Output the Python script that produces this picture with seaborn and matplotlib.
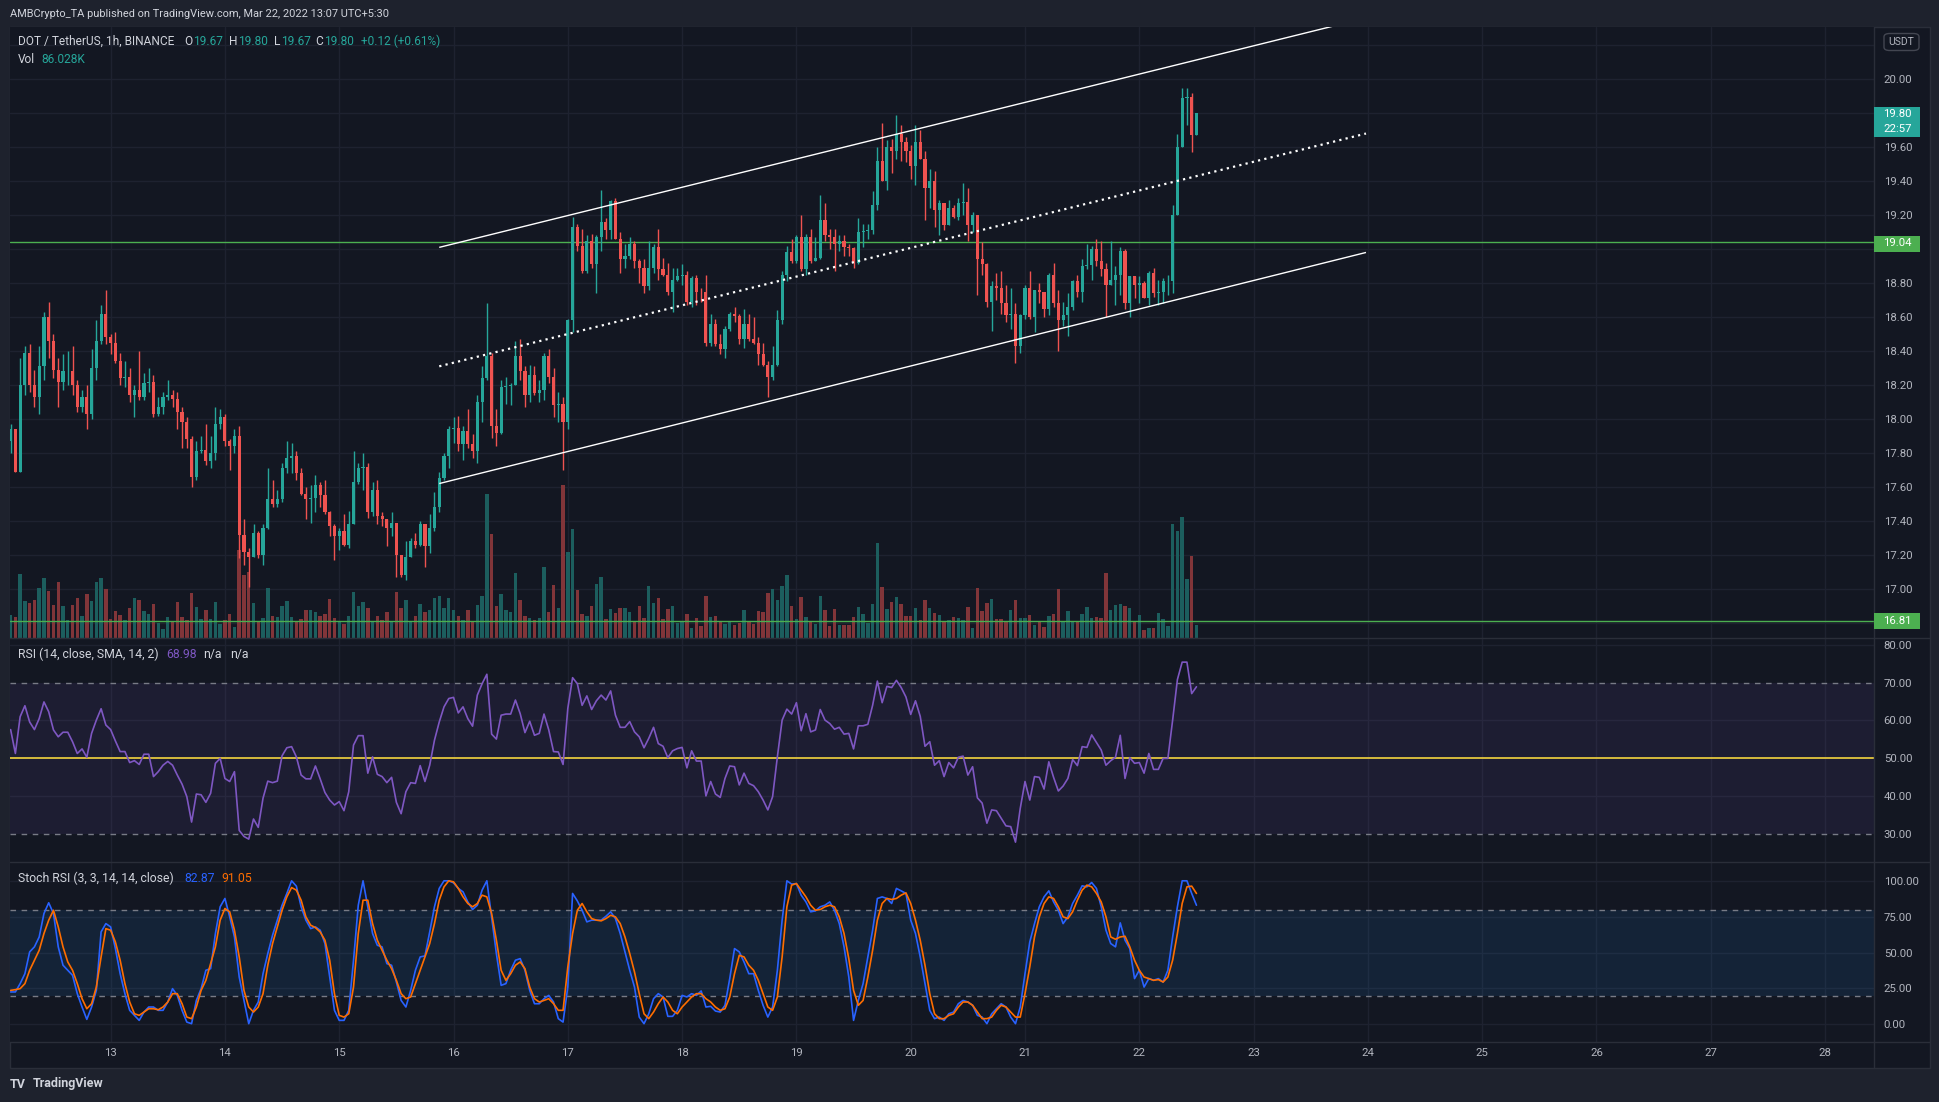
import numpy as np
import matplotlib
matplotlib.use("Agg")
import matplotlib.pyplot as plt
import seaborn as sns
from matplotlib.patches import Rectangle, FancyBboxPatch
from matplotlib.transforms import blended_transform_factory
from matplotlib.lines import Line2D

# ---------------- data (hourly DOT/USDT candles, Mar 12 03:00 .. Mar 22 12:00) ----------------
first_open = 17.87
closes = [
 17.94,17.69,18.20,18.39,18.20,18.13,18.31,18.60,18.46,18.29,
 18.22,18.28,18.285,18.20,18.07,18.13,18.03,18.30,18.46,18.62,
 18.48,18.45,18.34,18.24,18.245,18.14,18.17,18.13,18.21,18.215,
 18.03,18.07,18.13,18.14,18.12,18.04,17.98,17.88,17.66,17.81,
 17.815,17.75,17.80,17.97,18.01,17.87,17.84,17.90,17.32,17.22,
 17.19,17.33,17.20,17.36,17.53,17.50,17.53,17.71,17.77,17.785,
 17.68,17.56,17.53,17.535,17.61,17.55,17.45,17.37,17.31,17.34,
 17.26,17.38,17.63,17.71,17.715,17.45,17.58,17.43,17.41,17.36,
 17.39,17.20,17.08,17.19,17.28,17.26,17.38,17.25,17.36,17.48,
 17.65,17.78,17.94,17.945,17.85,17.93,17.85,17.81,18.10,18.24,
 18.37,17.96,17.92,18.19,18.195,18.20,18.37,18.28,18.14,18.26,
 18.15,18.17,18.37,18.25,18.08,18.09,17.98,18.58,19.13,19.02,
 18.87,19.05,18.91,19.07,19.16,19.11,19.28,19.06,18.94,18.96,
 19.03,18.93,18.89,18.78,18.89,19.01,18.88,18.85,18.75,18.82,
 18.84,18.85,18.69,18.83,18.75,18.745,18.45,18.56,18.44,18.41,
 18.53,18.62,18.605,18.47,18.56,18.47,18.45,18.38,18.32,18.25,
 18.32,18.58,18.85,18.98,18.93,19.07,18.88,19.07,18.93,18.945,
 19.17,19.08,19.07,19.03,19.05,19.01,19.005,18.92,19.10,19.105,
 19.11,19.26,19.52,19.40,19.60,19.58,19.68,19.63,19.58,19.49,
 19.63,19.53,19.36,19.40,19.23,19.27,19.14,19.24,19.19,19.27,
 19.275,19.14,19.20,18.94,18.91,18.69,18.78,18.77,18.68,18.61,
 18.615,18.43,18.61,18.77,18.60,18.76,18.75,18.65,18.85,18.68,
 18.58,18.61,18.66,18.81,18.75,18.90,18.905,19.00,18.93,18.88,
 18.79,18.82,18.85,18.99,18.68,18.84,18.79,18.80,18.71,18.86,
 18.74,18.745,18.81,18.815,19.20,19.60,19.89,19.895,19.67,19.80]
highs = [
 17.97,17.94,18.36,18.43,18.44,18.29,18.43,18.63,18.69,18.50,
 18.36,18.38,18.40,18.43,18.23,18.17,18.20,18.41,18.58,18.67,
 18.76,18.50,18.51,18.39,18.34,18.30,18.20,18.40,18.27,18.30,
 18.26,18.13,18.16,18.23,18.17,18.16,18.07,18.01,17.90,17.87,
 17.90,17.97,17.90,18.07,18.06,18.03,17.88,17.94,17.96,17.41,
 17.24,17.38,17.34,17.38,17.71,17.64,17.58,17.74,17.87,17.86,
 17.81,17.71,17.60,17.61,17.67,17.63,17.64,17.46,17.38,17.36,
 17.44,17.46,17.81,17.74,17.80,17.74,17.63,17.64,17.45,17.41,
 17.45,17.39,17.20,17.28,17.30,17.33,17.40,17.38,17.44,17.57,
 17.69,17.80,17.96,18.01,18.02,17.96,18.06,17.91,18.14,18.31,
 18.68,18.39,18.06,18.23,18.25,18.21,18.46,18.47,18.31,18.32,
 18.31,18.23,18.39,18.41,18.30,18.16,18.13,18.59,19.19,19.15,
 19.12,19.08,19.09,19.08,19.35,19.18,19.29,19.30,19.10,19.03,
 19.07,19.05,18.94,18.94,19.05,19.03,19.12,18.95,18.92,18.89,
 18.89,18.91,18.87,18.84,18.85,18.77,18.85,18.62,18.59,18.50,
 18.55,18.63,18.66,18.62,18.65,18.62,18.60,18.48,18.45,18.34,
 18.43,18.64,18.87,19.02,19.06,19.08,19.20,19.09,19.12,19.07,
 19.32,19.27,19.12,19.12,19.08,19.08,19.03,19.01,19.18,19.15,
 19.15,19.34,19.60,19.74,19.64,19.65,19.79,19.73,19.66,19.61,
 19.73,19.70,19.58,19.47,19.46,19.29,19.27,19.29,19.26,19.30,
 19.39,19.36,19.22,19.20,19.04,18.92,18.81,18.86,18.87,18.79,
 18.77,18.68,18.62,18.79,18.87,18.76,18.80,18.75,18.86,18.92,
 18.76,18.69,18.74,18.82,18.85,18.94,19.03,19.02,19.06,19.05,
 18.92,19.05,18.90,19.01,19.00,18.84,18.84,18.84,18.81,18.87,
 18.89,18.82,18.83,18.85,19.26,19.68,19.95,19.95,19.92,19.80]
lows = [
 17.80,17.69,17.69,18.14,18.16,18.07,18.03,18.23,18.36,18.24,
 18.07,18.17,18.20,18.14,18.04,18.04,17.94,18.00,18.23,18.44,
 18.44,18.38,18.33,18.20,18.19,18.10,18.01,18.11,18.11,18.16,
 18.01,18.02,18.03,18.11,18.07,17.94,17.83,17.83,17.60,17.64,
 17.80,17.73,17.71,17.76,17.94,17.84,17.70,17.80,17.18,17.14,
 17.01,17.19,17.18,17.14,17.35,17.48,17.48,17.51,17.68,17.68,
 17.64,17.55,17.41,17.39,17.45,17.48,17.44,17.31,17.17,17.23,
 17.25,17.24,17.38,17.62,17.58,17.42,17.43,17.38,17.37,17.25,
 17.31,17.07,17.07,17.05,17.19,17.24,17.25,17.13,17.21,17.34,
 17.45,17.64,17.71,17.86,17.81,17.76,17.83,17.77,17.74,17.98,
 18.23,17.89,17.84,17.91,18.09,18.08,18.20,18.23,18.07,18.10,
 18.14,18.10,18.11,18.21,18.01,17.98,17.70,17.94,18.51,18.99,
 18.86,18.86,18.89,18.74,18.99,19.06,19.06,19.06,18.86,18.89,
 18.94,18.89,18.80,18.74,18.76,18.86,18.82,18.84,18.73,18.63,
 18.81,18.79,18.67,18.66,18.67,18.69,18.43,18.43,18.43,18.38,
 18.36,18.52,18.57,18.44,18.42,18.46,18.44,18.32,18.31,18.13,
 18.23,18.31,18.56,18.81,18.92,18.92,18.87,18.85,18.92,18.93,
 18.94,19.05,19.00,18.87,18.99,18.96,18.96,18.89,18.91,19.01,
 19.06,19.09,19.23,19.40,19.35,19.45,19.53,19.52,19.51,19.41,
 19.38,19.53,19.17,19.24,19.13,19.08,19.11,19.14,19.18,19.17,
 19.20,19.05,19.10,18.73,18.85,18.66,18.52,18.70,18.62,18.57,
 18.53,18.33,18.39,18.59,18.59,18.51,18.68,18.60,18.61,18.66,
 18.40,18.55,18.49,18.64,18.72,18.69,18.88,18.82,18.90,18.84,
 18.60,18.79,18.67,18.73,18.65,18.60,18.71,18.68,18.71,18.67,
 18.72,18.67,18.68,18.73,18.74,19.20,19.60,19.73,19.57,19.67]
volume_k = [
 152,139,422,244,231,251,330,396,310,218, 370,211,119,218,264,145,290,244,370,396,
 323,125,178,152,119,198,264,251,178,158, 224,99,59,139,106,238,139,119,297,205,
 125,185,125,238,92,119,158,73,581,416, 436,231,106,132,330,145,139,211,244,139,
 106,125,185,
 185,172,145,158,257,132,106,92,145,304, 211,238,198,106,145,119,172,106,304,198,
 251,106,145,224,172,185,264,277,198,264, 185,145,119,185,106,218,277,950,686,211,
 290,185,172,429,251,145,132,119,132,469, 172,350,198,1010,568,719,317,158,145,211,356,
 403,125,191,165,198,198,172,106,211,132, 343,231,264,125,191,211,99,112,158,66,
 132,79,277,139,145,112,92,106,86,99, 185,106,92,178,172,297,323,251,343,416,
 211,125,271,139,112,92,277,185,79,191, 86,86,86,139,205,158,99,224,627,337,
 191,238,271,224,145,
 145,198,119,251,198,165,152,112,119,139, 132,119,205,66,330,178,231,257,125,125,
 112,185,251,132,132,152,86,106,73,145, 158,323,106,178,112,112,158,205,132,139,
 132,429,185,218,224,211,198,112,152,53, 66,66,165,125,79,752,706,799,389,541,
 86]
rsi = [
 57.6,51.3,61.0,63.9,59.6,57.6,60.5,64.9,62.3,57.5, 55.7,56.9,56.9,54.4,51.3,52.5,50.3,56.6,60.1,63.1,
 58.8,57.6,54.6,51.8,51.8,48.9,49.4,48.4,51.1,51.1, 45.2,46.5,48.2,49.2,48.2,45.6,43.2,39.9,33.2,40.6,
 40.4,38.4,40.8,48.7,50.0,44.7,43.9,46.5,31.0,29.4, 28.7,34.0,31.8,39.5,44.0,43.6,44.0,50.7,52.8,53.1,
 50.4,45.6,44.6,44.6,48.0,44.6,41.0,39.0,37.7,38.6, 36.2,41.2,53.5,56.0,56.0,46.1,50.4,45.8,45.2,43.6,
 45.0,38.4,35.4,41.2,43.6,43.4,48.1,43.9,48.2,54.8, 59.6,63.6,65.8,66.1,62.0,63.6,60.5,58.5,66.7,69.7,
 72.2,56.4,55.1,61.4,61.7,61.7,65.4,61.8,56.8,59.8, 56.1,56.6,61.7,57.5,51.8,51.7,48.4,63.2,71.3,69.7,
 64.0,66.5,62.9,65.2,
 66.7,65.4,67.8,61.4,58.2,58.2,59.7,57.0,55.7,52.8, 55.3,58.2,53.9,53.2,50.2,52.0,52.6,52.9,47.5,52.0,
 49.3,49.3,40.1,43.9,40.6,39.7,44.7,48.0,47.8,43.0, 46.1,43.4,42.8,41.2,39.0,36.4,39.9,50.4,60.1,63.0,
 61.7,64.7,57.3,61.8,57.0,57.5,62.9,60.1,59.2,57.7, 58.2,56.4,56.6,52.5,58.6,58.6,59.0,64.0,70.4,64.7,
 69.0,68.7,70.6,68.7,66.2,61.6,65.2,61.1,53.2,54.4, 48.2,49.4,45.2,48.9,47.5,50.3,50.6,45.6,47.8,39.6,
 38.2,32.9,36.4,36.2,34.2,32.2,32.0,27.9,36.8,43.9, 39.0,45.2,45.0,41.9,49.1,45.0,41.4,42.7,44.7,49.7,
 48.1,53.1,52.9,56.2,54.2,52.2,48.2,49.4,50.3,56.1, 44.7,50.2,48.7,48.9,46.1,51.3,47.1,47.1,50.0,50.0,
 60.1,70.8,75.4,75.4,67.1,68.9]
stoch_k = [
 22.6,22.6,28.4,35.3,50.5,54.0,60.9,77.2,84.7,77.2, 54.0,41.2,37.7,34.2,21.4,12.1,3.5,12.1,23.7,64.4,
 70.2,67.9,52.8,35.3,21.4,9.8,6.3,2.8,8.6,12.1, 12.1,9.8,9.8,15.6,24.9,20.2,9.8,1.6,0.5,16.7,
 24.9,37.7,38.8,63.3,81.9,87.7,74.9,60.9,33.0,16.7, 0.5,9.8,15.6,35.3,49.3,62.1,72.6,83.0,91.2,100,
 96.3,81.9,72.6,66.7,67.9,65.6,56.3,33.0,9.8,2.8, 2.8,9.8,44.7,83.0,100,81.9,63.3,55.1,54.0,42.3,
 41.2,29.5,16.7,12.1,23.7,37.7,47.0,47.7,64.4,81.9, 94.7,100,100,98.6,94.7,92.3,85.3,80.0,83.0,93.5,
 100,74.9,49.3,27.2,28.4,37.7,44.7,45.8,37.7,23.7, 14.4,14.4,17.9,20.2,15.6,4.0,1.6,26.0,91.2,86.0,
 79.5,71.4,72.6,72.6,
 72.6,75.3,78.4,73.7,63.3,50.5,37.7,26.0,5.1,0.5, 7.4,17.9,21.4,19.1,5.6,5.6,9.8,20.2,19.1,21.4,
 20.2,23.3,12.1,12.6,9.3,8.6,13.3,31.9,52.8,50.5, 43.5,35.3,35.3,23.7,13.3,5.1,12.1,37.7,72.6,100,
 97.7,98.1,90.0,85.3,78.4,79.1,81.9,83.0,85.3,79.5, 70.2,54.0,33.0,2.8,16.7,28.4,47.0,65.6,87.7,88.8,
 87.7,84.2,94.7,93.0,91.2,72.6,63.3,47.0,28.4,9.8, 4.0,5.1,2.8,7.4,8.6,14.4,16.7,15.6,13.3,6.3,
 5.1,0.5,7.4,10.9,14.4,12.1,5.1,0.5,12.1,35.3, 57.4,70.2,81.9,88.8,93.0,85.3,79.5,70.2,74.9,84.2,
 90.0,96.5,95.8,98.8,94.7,81.9,65.6,56.3,54.0,70.7, 58.6,52.8,31.9,37.7,26.0,31.9,30.7,31.9,29.5,37.7,
 60.9,81.9,100,100,91.2,83.0]
stoch_d = [
 23.7,24.2,24.9,28.4,37.7,44.7,51.6,63.3,72.6,79.5, 67.9,54.0,43.5,37.7,28.4,17.9,10.9,14.4,26.0,47.0,
 66.7,65.6,57.4,44.7,28.4,15.6,7.4,6.3,8.6,10.9, 10.9,10.2,12.1,15.6,21.4,21.4,14.4,5.1,4.0,12.1,
 23.7,30.7,42.3,54.0,72.6,80.7,78.4,65.6,47.0,23.7, 12.1,8.6,12.1,21.4,41.2,56.3,67.9,79.5,88.8,95.3,
 93.5,86.5,74.9,69.1,67.4,64.4,58.6,44.7,21.4,6.3, 5.1,7.4,26.0,63.3,86.5,86.5,70.2,58.6,51.6,44.7,
 38.8,30.7,21.4,17.9,19.1,28.4,37.7,47.0,56.3,70.2, 86.5,95.8,100,99.3,94.7,88.8,84.2,81.9,84.2,90.0,
 88.8,77.2,58.6,37.7,30.7,35.3,41.2,43.5,38.8,26.0, 17.9,15.6,16.7,17.9,14.4,9.8,9.8,40.0,63.3,79.5,
 84.2,78.4,73.7,72.6,
 72.1,73.7,76.0,74.9,70.2,60.9,49.3,36.5,21.4,7.4, 4.0,8.6,14.4,19.1,15.6,9.8,7.4,12.1,15.6,19.1,
 21.4,21.4,17.9,15.6,12.1,9.8,10.9,19.1,35.3,48.1, 47.0,41.2,37.7,30.7,21.4,12.1,9.8,19.1,47.0,81.9,
 97.0,98.1,93.5,88.8,83.0,79.5,80.0,81.9,83.0,81.9, 74.9,63.3,45.8,23.7,13.3,16.7,33.0,51.6,72.6,84.2,
 87.7,87.0,87.7,90.0,91.6,84.2,72.6,58.6,41.2,21.4, 7.4,4.0,4.0,6.3,7.4,12.1,15.6,15.6,13.3,8.6,
 4.0,4.0,5.1,9.8,13.3,12.1,8.6,5.1,5.1,21.4, 40.0,60.9,74.9,84.2,88.8,87.7,81.9,74.9,73.7,78.4,
 86.5,93.5,97.0,95.8,91.2,85.3,74.9,60.9,59.3,60.9, 61.4,54.0,44.7,37.7,33.0,31.9,30.7,31.2,29.5,33.0,
 44.7,63.3,84.2,95.8,96.3,91.2]
day_labels = ["13","14","15","16","17","18","19","20","21","22","23","24","25","26","27","28"]
price_ticks = [20.00,19.60,19.40,19.20,18.80,18.60,18.40,18.20,18.00,17.80,17.60,17.40,17.20,17.00]
rsi_ticks = [30,40,50,60,70,80]
stoch_ticks = [0,25,50,75,100]
# drawings: (candle index, price)
channel_upper = [(90.0, 19.01), (284.6, 20.36)]
channel_lower = [(90.0, 17.62), (284.6, 18.98)]
channel_mid = [(90.0, 18.31), (284.6, 19.68)]
support_lines = [19.04, 16.81]

n = len(closes)
assert len(highs) == n and len(lows) == n and len(volume_k) == n, (len(highs), len(lows), len(volume_k))
assert len(rsi) == n and len(stoch_k) == n and len(stoch_d) == n, (len(rsi), len(stoch_k), len(stoch_d))

# ---------------- style ----------------
W, H = 1940, 1102
sns.set_theme(style="dark")
plt.rcParams['font.family'] = ['Roboto', 'DejaVu Sans']
plt.rcParams['axes.unicode_minus'] = False

BG = '#131722'; FRAME = '#1e222d'; BORDER = '#2a2e39'; GRID = '#1e2230'
TXT = '#b2b5be'; LEG = '#d1d4dc'
UP = '#26a69a'; DN = '#ef5350'

fig = plt.figure(figsize=(W / 100, H / 100), dpi=100, facecolor=FRAME)

def fx(x): return x / W
def fy(y): return 1 - y / H
def rect(x0, y0, x1, y1): return [fx(x0), fy(y1), (x1 - x0) / W, (y1 - y0) / H]

fig.patches.append(Rectangle((fx(10), fy(1068)), 1920 / W, 1041 / H, transform=fig.transFigure,
                             facecolor=BG, edgecolor=BORDER, lw=1, zorder=-5))

ax_p = fig.add_axes(rect(10, 27, 1874, 638))
ax_r = fig.add_axes(rect(10, 638, 1874, 862))
ax_s = fig.add_axes(rect(10, 862, 1874, 1042))

XMIN, XMAX = -0.13, 391.27
day_idx = [21 + 24 * k for k in range(len(day_labels))]
for ax in (ax_p, ax_r, ax_s):
    ax.set_facecolor(BG)
    for s in ax.spines.values():
        s.set_visible(False)
    ax.set_xlim(XMIN, XMAX)
    ax.grid(False)
    for d in day_idx:
        ax.axvline(d, color=GRID, lw=1, zorder=0)
    ax.yaxis.tick_right()
    ax.tick_params(axis='y', length=0, pad=7, labelsize=8.2, labelcolor=TXT)
    ax.tick_params(axis='x', length=0)

# ---------------- price pane ----------------
ax_p.set_ylim(16.711, 20.307)
for p in np.arange(16.8, 20.25, 0.2):
    ax_p.axhline(p, color=GRID, lw=1, zorder=0)

idx = np.arange(n)
c = np.array(closes)
o = np.array([first_open] + closes[:-1])
hi = np.maximum(np.array(highs), np.maximum(o, c))
lo = np.minimum(np.array(lows), np.minimum(o, c))
up = c >= o
cols = np.where(up, UP, DN)

# volume (bottom of pane, own scale: full pane height = 4033K)
vtr = blended_transform_factory(ax_p.transData, ax_p.transAxes)
vcols = np.where(up, '#1c5e5e', '#813539')
ax_p.bar(idx, np.array(volume_k) / 4033.0, width=0.72, bottom=0, color=vcols, linewidth=0,
         transform=vtr, zorder=1)

for lvl in support_lines:
    ax_p.axhline(lvl, color='#4caf50', lw=1, zorder=2)

ax_p.vlines(idx, lo, hi, colors=cols, lw=1.0, zorder=3)
ax_p.bar(idx, np.maximum(np.abs(c - o), 0.005), bottom=np.minimum(o, c), width=0.66,
         color=cols, linewidth=0, zorder=4)

for seg in (channel_upper, channel_lower):
    ax_p.plot([seg[0][0], seg[1][0]], [seg[0][1], seg[1][1]], color='white', lw=1.0, ls='-',
              zorder=5, solid_capstyle='butt')
ax_p.plot([channel_mid[0][0], channel_mid[1][0]], [channel_mid[0][1], channel_mid[1][1]],
          color='white', lw=1.6, ls=(0, (1, 1.9)), zorder=5, dash_capstyle='butt')

ax_p.set_yticks(price_ticks)
ax_p.set_yticklabels([f"{v:.2f}" for v in price_ticks])
ax_p.set_xticks([])

# ---------------- RSI pane ----------------
ax_r.set_ylim(22.66, 81.77)
for v in (40, 60, 80):
    ax_r.axhline(v, color=GRID, lw=1, zorder=0)
ax_r.axhspan(30, 70, color='#7e57c2', alpha=0.10, lw=0, zorder=0.5)
for v in (70, 30):
    ax_r.axhline(v, color='#787b86', lw=1, ls=(0, (4, 4)), zorder=1)
ax_r.axhline(50, color='#f5d53f', lw=1.2, zorder=1)
sns.lineplot(x=idx, y=rsi, ax=ax_r, color='#7e57c2', linewidth=1.2, estimator=None, zorder=3)
ax_r.set_yticks(rsi_ticks)
ax_r.set_yticklabels([f"{v:.2f}" for v in rsi_ticks])
ax_r.set_xticks([])
ax_r.set_xlabel(''); ax_r.set_ylabel('')

# ---------------- Stoch RSI pane ----------------
ax_s.set_ylim(-12.26, 113.1)
for v in stoch_ticks:
    ax_s.axhline(v, color=GRID, lw=1, zorder=0)
ax_s.axhspan(20, 80, color='#2196f3', alpha=0.10, lw=0, zorder=0.5)
for v in (80, 20):
    ax_s.axhline(v, color='#787b86', lw=1, ls=(0, (4, 4)), zorder=1)
sns.lineplot(x=idx, y=stoch_k, ax=ax_s, color='#2962ff', linewidth=1.2, estimator=None, zorder=3)
sns.lineplot(x=idx, y=stoch_d, ax=ax_s, color='#ff6d00', linewidth=1.2, estimator=None, zorder=4)
ax_s.set_yticks(stoch_ticks)
ax_s.set_yticklabels([f"{v:.2f}" for v in stoch_ticks])
ax_s.set_xticks(day_idx)
ax_s.set_xticklabels(day_labels)
ax_s.tick_params(axis='x', length=0, pad=4, labelsize=8.2, labelcolor=TXT)
ax_s.set_xlabel(''); ax_s.set_ylabel('')

# ---------------- separators ----------------
for yy in (638, 862, 1042):
    fig.add_artist(Line2D([fx(10), fx(1930)], [fy(yy), fy(yy)], transform=fig.transFigure,
                          color=BORDER, lw=1, zorder=6))
fig.add_artist(Line2D([fx(1874), fx(1874)], [fy(27), fy(1068)], transform=fig.transFigure,
                      color=BORDER, lw=1, zorder=6))

# ---------------- price markers ----------------
def marker(y0, y1, color, lines):
    fig.patches.append(Rectangle((fx(1874), fy(y1)), 46 / W, (y1 - y0) / H, transform=fig.transFigure,
                                 facecolor=color, edgecolor='none', zorder=7))
    for (txt, yc) in lines:
        fig.text(fx(1883), fy(yc), txt, color='white', fontsize=8.2, va='center', ha='left', zorder=8)

marker(106.5, 137, UP, [("19.80", 114), ("22:57", 129)])
marker(235.5, 251.5, '#4caf50', [("19.04", 243.5)])
marker(612.5, 628.5, '#4caf50', [("16.81", 620.5)])
fig.patches.append(FancyBboxPatch((fx(1884), fy(50.5)), 35 / W, 17 / H, boxstyle="round,pad=0,rounding_size=0.003",
                                  transform=fig.transFigure, facecolor=BG, edgecolor='#434651', lw=1, zorder=7))
fig.text(fx(1901.5), fy(42), "USDT", color=TXT, fontsize=7.5, ha='center', va='center', zorder=8)

# ---------------- texts ----------------
renderer = fig.canvas.get_renderer()

def put(x, y, s, color, size=8, weight='normal'):
    t = fig.text(fx(x), fy(y), s, color=color, fontsize=size, va='center', ha='left', fontweight=weight, zorder=9)
    return t.get_window_extent(renderer).x1

fig.text(fx(10), fy(14), "AMBCrypto_TA published on TradingView.com, Mar 22, 2022 13:07 UTC+5:30",
         color=LEG, fontsize=7.9, va='center', ha='left')

LS = 8.6
put(18, 41.5, "DOT / TetherUS, 1h, BINANCE", LEG, LS)
for lab, val, xx in (("O", "19.67", 184), ("H", "19.80", 228.6), ("L", "19.67", 273.7), ("C", "19.80", 315.6)):
    e = put(xx, 41.5, lab, LEG, LS)
    put(e + 0.5, 41.5, val, UP, LS)
put(360.7, 41.5, "+0.12 (+0.61%)", UP, LS)
put(18, 59.3, "Vol", LEG, LS)
put(41.5, 59.3, "86.028K", UP, LS)

IS = 8.8
put(18, 654.3, "RSI (14, close, SMA, 14, 2)", LEG, IS)
put(166, 654.3, "68.98", '#7e57c2', IS)
put(203.3, 654.3, "n/a", LEG, IS)
put(230, 654.3, "n/a", LEG, IS)
put(18, 878.3, "Stoch RSI (3, 3, 14, 14, close)", LEG, IS)
put(184.3, 878.3, "82.87", '#2962ff', IS)
put(221, 878.3, "91.05", '#ff6d00', IS)

put(10, 1084, "TV", '#d1d4dc', 9, 'bold')
put(33, 1084, "TradingView", '#d1d4dc', 9, 'bold')

fig.savefig("out.png", dpi=100, facecolor=FRAME)
